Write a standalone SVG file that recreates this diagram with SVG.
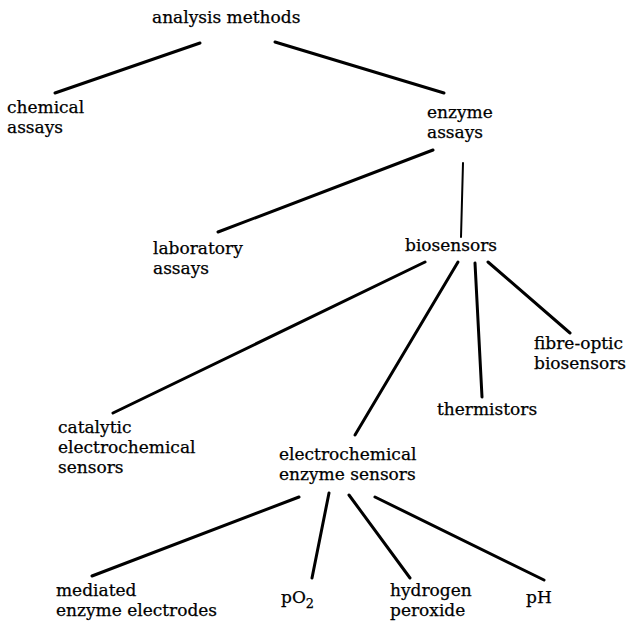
<svg xmlns="http://www.w3.org/2000/svg" width="630" height="626" viewBox="0 0 630 626">
<style>
text { font-family: "DejaVu Serif", "Liberation Serif", serif; font-size: 17px; fill: #000; stroke: #000; stroke-width: 0.25; }
.c line { stroke: #000; stroke-width: 3; stroke-linecap: round; }
.c line.thin { stroke-width: 2; }
</style>
<rect width="630" height="626" fill="#fff"/>
<g class="c" id="connectors">
<line x1="200" y1="43" x2="55" y2="93"/>
<line x1="275" y1="42" x2="444" y2="93"/>
<line x1="433" y1="150" x2="218" y2="232"/>
<line class="thin" x1="463" y1="163" x2="461" y2="237"/>
<line x1="425" y1="262" x2="113" y2="413"/>
<line x1="458" y1="262" x2="355" y2="435"/>
<line x1="475" y1="263" x2="482" y2="397"/>
<line x1="488" y1="262" x2="570" y2="333"/>
<line x1="299" y1="497" x2="92" y2="576"/>
<line x1="329" y1="493" x2="312" y2="578"/>
<line x1="349" y1="495" x2="410" y2="578"/>
<line x1="375" y1="497" x2="544" y2="580"/>
</g>
<g id="analysis"><text x="152" y="23">analysis methods</text></g>
<g id="chemical"><text x="7" y="113">chemical</text><text x="7" y="133">assays</text></g>
<g id="enzyme"><text x="427" y="118">enzyme</text><text x="427" y="138">assays</text></g>
<g id="laboratory"><text x="153" y="254">laboratory</text><text x="153" y="274">assays</text></g>
<g id="biosensors"><text x="405" y="251">biosensors</text></g>
<g id="fibre"><text x="534" y="349">fibre-optic</text><text x="534" y="369">biosensors</text></g>
<g id="thermistors"><text x="437" y="415">thermistors</text></g>
<g id="catalytic"><text x="58" y="433">catalytic</text><text x="58" y="453">electrochemical</text><text x="58" y="473">sensors</text></g>
<g id="electro"><text x="279" y="460">electrochemical</text><text x="279" y="480">enzyme sensors</text></g>
<g id="mediated"><text x="56" y="596">mediated</text><text x="56" y="616">enzyme electrodes</text></g>
<g id="po2"><text x="281" y="603">pO<tspan font-size="13" dy="5">2</tspan></text></g>
<g id="hydrogen"><text x="390" y="596">hydrogen</text><text x="390" y="616">peroxide</text></g>
<g id="ph"><text x="526" y="603">pH</text></g>
</svg>
